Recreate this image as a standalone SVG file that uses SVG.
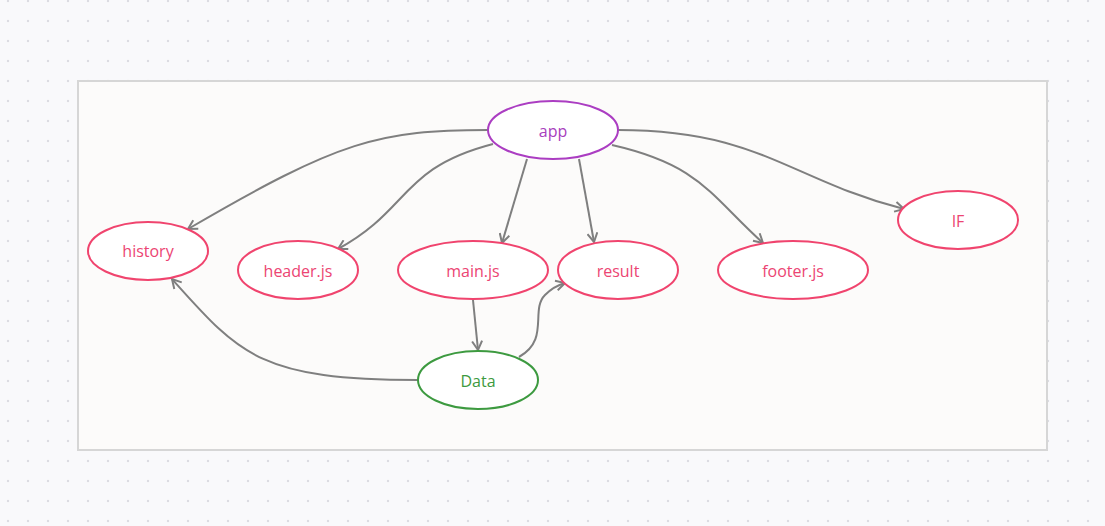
<svg xmlns="http://www.w3.org/2000/svg" width="1105" height="526" viewBox="0 0 1105 526">
<defs>
<pattern id="dots" width="20" height="20" patternUnits="userSpaceOnUse" x="-2" y="-9">
<circle cx="10" cy="10" r="1.2" fill="#dcdce2"/>
</pattern>
<marker id="arr" viewBox="0 0 12 12" refX="10" refY="6" markerWidth="12" markerHeight="12" markerUnits="userSpaceOnUse" orient="auto">
<path d="M1,1 L10,6 L1,11" fill="none" stroke="#7f7f7f" stroke-width="2"/>
</marker>
<style>
.edge{fill:none;stroke:#7f7f7f;stroke-width:2;marker-end:url(#arr)}
.pink ellipse{fill:#fff;stroke:#f0446e;stroke-width:2}
.pink text{fill:#ec4573}
text{font-family:"Open Sans","Noto Sans",sans-serif;font-size:16px;text-anchor:middle;dominant-baseline:central}
</style>
</defs>
<rect width="1105" height="526" fill="#f9f9fb"/>
<rect width="1105" height="526" fill="url(#dots)"/>
<rect x="78" y="81" width="969" height="369" fill="#fcfbfa" stroke="#d6d6d6" stroke-width="2"/>
<g id="connectors">
<path class="edge" d="M488,130 C380,130 340,140 188,229"/>
<path class="edge" d="M493,144 C400,168 410,210 338,249"/>
<path class="edge" d="M527,159 L502,243"/>
<path class="edge" d="M579,159 L594,242"/>
<path class="edge" d="M612,145 C700,165 710,195 763,243"/>
<path class="edge" d="M618,130 C760,130 790,180 904,209"/>
<path class="edge" d="M473,300 L478,350"/>
<path class="edge" d="M519,357 C550,340 530,310 545,295 C552,288 558,285 565,283"/>
<path class="edge" d="M418,380 C260,380 240,355 172,279"/>
</g>
<g id="app"><ellipse cx="553" cy="130" rx="65" ry="29" fill="#fff" stroke="#ab3dc2" stroke-width="2"/><text x="553" y="131" fill="#a840bd">app</text></g>
<g id="history" class="pink"><ellipse cx="148" cy="251" rx="60" ry="29"/><text x="148" y="251">history</text></g>
<g id="header" class="pink"><ellipse cx="298" cy="270" rx="60" ry="29"/><text x="298" y="271">header.js</text></g>
<g id="main" class="pink"><ellipse cx="473" cy="270" rx="75" ry="29"/><text x="473" y="271">main.js</text></g>
<g id="result" class="pink"><ellipse cx="618" cy="270" rx="60" ry="29"/><text x="618" y="271">result</text></g>
<g id="footer" class="pink"><ellipse cx="793" cy="270" rx="75" ry="29"/><text x="793" y="271">footer.js</text></g>
<g id="IF" class="pink"><ellipse cx="958" cy="220" rx="60" ry="29"/><text x="958" y="221">IF</text></g>
<g id="Data"><ellipse cx="478" cy="380" rx="60" ry="29" fill="#fff" stroke="#3d9a40" stroke-width="2"/><text x="478" y="381" fill="#3d9a40">Data</text></g>
</svg>
